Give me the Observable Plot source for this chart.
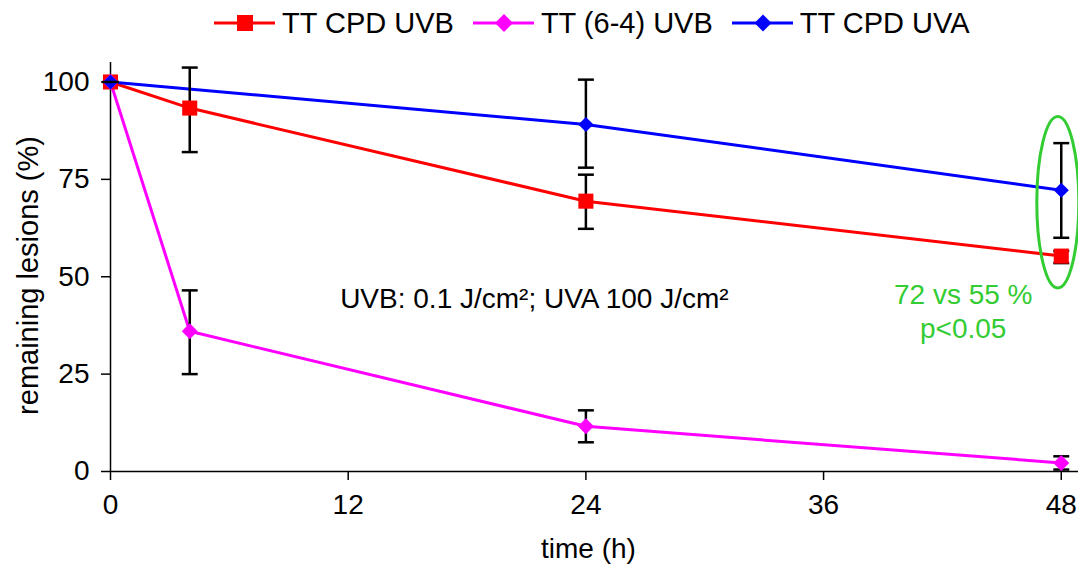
<!DOCTYPE html>
<html>
<head>
<meta charset="utf-8">
<script src="https://cdn.jsdelivr.net/npm/d3@7"></script>
<script src="https://cdn.jsdelivr.net/npm/@observablehq/plot@0.6"></script>
<style>
  html, body { margin: 0; padding: 0; background: #fff; }
  body { width: 1078px; height: 564px; overflow: hidden; font-family: "Liberation Sans", Arial, sans-serif; }
  #legend { height: 46px; display: flex; align-items: center; padding-left: 214px; font-size: 29px; color: #000; }
  .item { display: flex; align-items: center; margin-right: 19px; }
  .item svg { margin-right: 7px; }
</style>
</head>
<body>
<div id="legend"></div>
<div id="chart"></div>
<script>
// ---- data ----
const seriesNames = ["TT CPD UVB", "TT (6-4) UVB", "TT CPD UVA"];
const seriesColors = ["#ff0000", "#ff00ff", "#0000ff"];

const timesUVB = [0, 4, 24, 48];
const cpdUVB = [100, 93.3, 69.4, 55.3];
const cpdUVBLow = [100, 82.0, 62.3, 53.5];
const cpdUVBHigh = [100, 103.7, 76.2, 56.6];

const pp64UVB = [100, 36.0, 11.6, 2.2];
const pp64UVBLow = [100, 25.0, 7.5, 0.5];
const pp64UVBHigh = [100, 46.5, 15.7, 3.9];

const timesUVA = [0, 24, 48];
const cpdUVA = [100, 89.1, 72.2];
const cpdUVALow = [100, 78.0, 60.0];
const cpdUVAHigh = [100, 100.6, 84.3];

const xTicks = [0, 12, 24, 36, 48];
const yTicks = [0, 25, 50, 75, 100];

const xTitle = "time (h)";
const yTitle = "remaining lesions (%)";
const doseNote = [{t: 21.4, v: 44.4, text: "UVB: 0.1 J/cm²; UVA 100 J/cm²"}];
const statNote = [{t: 43.05, v: 41.4, text: "72 vs 55 %\np<0.05"}];
const highlight = {t: 47.85, v1: 47, v2: 91};

// ---- table ----
function build(name, times, v, lo, hi) {
  return times.map((t, i) => ({series: name, t, v: v[i], lo: lo[i], hi: hi[i]}));
}
const rows = [
  ...build(seriesNames[0], timesUVB, cpdUVB, cpdUVBLow, cpdUVBHigh),
  ...build(seriesNames[1], timesUVB, pp64UVB, pp64UVBLow, pp64UVBHigh),
  ...build(seriesNames[2], timesUVA, cpdUVA, cpdUVALow, cpdUVAHigh)
];
const errRows = rows.filter(d => d.hi > d.lo);
const zeroErr = rows.filter(d => d.hi === d.lo);

const capSymbol = {
  draw(ctx, size) {
    const w = Math.sqrt(size);
    ctx.moveTo(-w / 2, 0);
    ctx.lineTo(w / 2, 0);
  }
};

const font = "Liberation Sans, Arial, sans-serif";
const W = 1078, H = 518;

const chart = Plot.plot({
  width: W,
  height: H,
  marginLeft: 110,
  marginRight: 0,
  marginTop: 16,
  marginBottom: 93,
  style: {fontFamily: font, fontSize: "28px", color: "#000", background: "#fff", overflow: "visible"},
  x: {domain: [0, 48.87], label: null},
  y: {domain: [0, 105], label: null},
  color: {domain: seriesNames, range: seriesColors},
  marks: [
    Plot.axisX(xTicks, {tickSize: 9, tickPadding: 14, fontSize: 28, stroke: "#000", strokeWidth: 1.5, label: null}),
    Plot.axisY(yTicks, {tickSize: 9, tickPadding: 12, fontSize: 28, stroke: "#000", strokeWidth: 1.5, label: null}),
    Plot.ruleY([0], {stroke: "#000", strokeWidth: 1.5}),
    Plot.ruleX([0], {stroke: "#000", strokeWidth: 1.5}),
    Plot.line(rows, {x: "t", y: "v", z: "series", stroke: "series", strokeWidth: 3}),
    Plot.ruleX(errRows, {x: "t", y1: "lo", y2: "hi", stroke: "#000", strokeWidth: 2.5}),
    Plot.dot(errRows, {x: "t", y: "lo", symbol: capSymbol, r: 9, stroke: "#000", strokeWidth: 2.5, fill: "none"}),
    Plot.dot(errRows, {x: "t", y: "hi", symbol: capSymbol, r: 9, stroke: "#000", strokeWidth: 2.5, fill: "none"}),
    Plot.dot(rows.filter(d => d.series === seriesNames[0]), {x: "t", y: "v", symbol: "square", r: 8.5, fill: "series", stroke: "none"}),
    Plot.dot(rows.filter(d => d.series === seriesNames[1]), {x: "t", y: "v", symbol: "diamond2", r: 7.2, fill: "series", stroke: "none"}),
    Plot.dot(rows.filter(d => d.series === seriesNames[2]), {x: "t", y: "v", symbol: "diamond2", r: 6.8, fill: "series", stroke: "none"}),
    Plot.dot(zeroErr.slice(0, 1), {x: "t", y: "hi", symbol: capSymbol, r: 9.5, stroke: "#000", strokeWidth: 2.5, fill: "none"}),
    Plot.text(doseNote, {x: "t", y: "v", text: "text", fontSize: 28, fill: "#000"}),
    Plot.text(statNote, {x: "t", y: "v", text: "text", fontSize: 28, fill: "#33cc33", lineHeight: 1.21}),
    Plot.text([xTitle], {frameAnchor: "bottom", textAnchor: "middle", lineAnchor: "middle", dx: -6, dy: 78, fontSize: 28, fill: "#000"}),
    Plot.text([yTitle], {frameAnchor: "left", textAnchor: "middle", lineAnchor: "middle", rotate: -90, dx: -81.5, dy: 8.5, fontSize: 29, fill: "#000"})
  ]
});

// highlight ellipse
const xs = chart.scale("x"), ys = chart.scale("y");
const sx = d3.scaleLinear(xs.domain, xs.range);
const sy = d3.scaleLinear(ys.domain, ys.range);
const cy1 = sy(highlight.v2), cy2 = sy(highlight.v1);
d3.select(chart).append("ellipse")
  .attr("cx", sx(highlight.t))
  .attr("cy", (cy1 + cy2) / 2)
  .attr("rx", 21)
  .attr("ry", (cy2 - cy1) / 2)
  .attr("fill", "none")
  .attr("stroke", "#33cc33")
  .attr("stroke-width", 3);

document.getElementById("chart").appendChild(chart);

// legend
const legend = d3.select("#legend");
const markerFor = [
  g => g.append("rect").attr("x", 23).attr("y", 2).attr("width", 16).attr("height", 16).attr("fill", seriesColors[0]),
  g => g.append("path").attr("d", "M31,1 L40,10 L31,19 L22,10 Z").attr("fill", seriesColors[1]),
  g => g.append("path").attr("d", "M31,1.5 L39.5,10 L31,18.5 L22.5,10 Z").attr("fill", seriesColors[2])
];
seriesNames.forEach((name, i) => {
  const item = legend.append("div").attr("class", "item");
  const s = item.append("svg").attr("width", 61).attr("height", 20);
  s.append("line").attr("x1", 0).attr("x2", 61).attr("y1", 10).attr("y2", 10)
    .attr("stroke", seriesColors[i]).attr("stroke-width", 3);
  markerFor[i](s);
  item.append("span").text(name);
});
</script>
</body>
</html>
